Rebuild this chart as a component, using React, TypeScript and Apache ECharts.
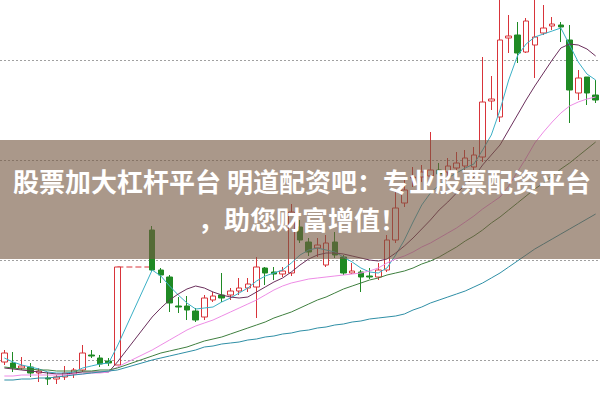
import React, { useEffect, useRef } from 'react';
import * as echarts from 'echarts';

// Trading days (index labels); days 15-17 are a trading gap
const days: string[] = Array.from({ length: 69 }, (_, i) => `D${i + 1}`);

// Candles (price units of the hidden axis)
const opens: (number | null)[] = [38, 37, 32, 33, 27, 22, 21, 23, 26, 30, 45, 42, 39, 35, null, null, null, 170, 130, 123, 94, 94, 89, 83, 100, 105, 105, 109, 112, 113, 132, 128, 126, 127, 173, 158, 152, 135, 158, 143, 127, 128, 124, 123, 130, 160, 197, 222, 223, 224, 230, 228, 232, 234, 233, 243, 299, 283, 362, 365, 348, 355, 367, 374, 375, 360, 307, 323, 305];
const closes: (number | null)[] = [47, 32, 34, 27, 29, 21, 23, 27, 30, 47, 44, 36, 37, 133, null, null, null, 130, 125, 97, 93, 90, 80, 102, 104, 102, 109, 112, 116, 133, 127, 126, 129, 188, 160, 148, 155, 157, 145, 127, 129, 123, 123, 130, 160, 192, 210, 223, 228, 230, 226, 234, 237, 242, 245, 298, 301, 360, 364, 347, 379, 363, 372, 376, 373, 310, 322, 307, 300];
const lows: (number | null)[] = [35, 28, 30, 23, 18, 15, 16, 20, 22, 28, 42, 33, 34, 35, null, null, null, 128, 117, 88, 87, 80, 78, 80, 98, 98, 100, 105, 108, 82, 115, 120, 123, 124, 157, 144, 143, 133, 142, 125, 126, 108, 121, 120, 128, 157, 193, 213, 218, 220, 220, 224, 228, 230, 230, 238, 290, 278, 347, 337, 347, 322, 365, 370, 358, 277, 300, 295, 297];
const highs: (number | null)[] = [50, 48, 43, 37, 32, 28, 25, 34, 32, 55, 50, 45, 42, 133, null, null, null, 174, 132, 125, 103, 104, 92, 105, 108, 127, 112, 122, 122, 143, 133, 133, 133, 196, 180, 162, 162, 165, 168, 145, 137, 130, 132, 137, 165, 210, 220, 233, 235, 268, 237, 242, 248, 250, 253, 343, 324, 412, 385, 378, 382, 410, 395, 383, 378, 375, 330, 323, 320];

// Moving averages
const ma5: (number | null)[] = [42, 38, 35, 33, 31, 28, 27, 27, 28, 32, 34, 36, 37, 54, null, null, null, 130, 124, 114, 105, 97, 91, 92, 93, 98, 102, 107, 112, 119, 124, 127, 130, 137, 145, 150, 152, 150, 148, 143, 138, 132, 128, 127, 132, 145, 160, 178, 195, 207, 215, 222, 227, 232, 236, 250, 265, 290, 320, 344, 356, 363, 366, 369, 372, 355, 338, 326, 320];
const ma10: (number | null)[] = [32, 31, 30, 29, 28, 27, 26, 26, 27, 28, 28, 28, 28, 38, null, null, null, 83, 92, 100, 106, 111, 114, 112, 108, 105, 103, 102, 103, 108, 113, 118, 122, 128, 135, 141, 145, 147, 147, 146, 144, 142, 140, 139, 141, 147, 154, 162, 171, 180, 190, 198, 207, 215, 223, 235, 245, 255, 270, 285, 300, 314, 327, 340, 352, 356, 355, 351, 344];
const ma20: (number | null)[] = [24, 24, 25, 25, 25, 25, 25, 25, 26, 26, 27, 27, 28, 33, null, null, null, 50, 55, 60, 65, 70, 74, 77, 80, 84, 88, 92, 96, 100, 105, 110, 114, 117, 119, 121, 122, 123, 124, 125, 126, 127, 129, 132, 137, 141, 144, 148, 153, 157, 162, 167, 172, 178, 184, 191, 197, 203, 214, 228, 242, 257, 268, 278, 287, 294, 298, 301, 303];
const ma30: (number | null)[] = [33, 32, 31, 31, 30, 30, 29, 29, 29, 29, 29, 30, 30, 32, null, null, null, 44, 47, 49, 51, 53, 56, 59, 61, 63, 66, 69, 72, 75, 78, 82, 85, 88, 92, 96, 100, 103, 107, 111, 114, 117, 120, 122, 125, 127, 129, 132, 136, 139, 143, 148, 153, 159, 164, 170, 177, 183, 190, 197, 204, 211, 217, 224, 231, 237, 244, 251, 258];
const ma60: (number | null)[] = [20, 20, 21, 21, 22, 22, 23, 24, 25, 26, 27, 28, 29, 30, null, null, null, 40, 42, 44, 46, 48, 50, 53, 54, 56, 57, 58, 60, 61, 63, 64, 66, 67, 69, 70, 72, 73, 75, 76, 78, 79, 81, 82, 83, 84, 86, 90, 93, 97, 100, 103, 106, 109, 113, 117, 122, 127, 133, 139, 145, 151, 156, 161, 166, 171, 176, 181, 186];

// Dashed "limit" line bridging the gap
const gapLine: (number | null)[] = days.map((_, i) => (i === 13 || i === 17 ? 133 : null));

// Horizontal reference levels (dotted)
const levels: number[] = [40, 140, 240, 340];

const bannerLines: string[] = [
  '股票加大杠杆平台 明道配资吧：专业股票配资平台',
  '，助您财富增值！',
];

const RED = '#d8343a';
const GREEN = '#1f8a24';

const fix = (arr: (number | null)[]) => arr.map((v) => (v == null ? '-' : v));

export default function App() {
  const ref = useRef<HTMLDivElement>(null);
  useEffect(() => {
    if (!ref.current) return;
    const chart = echarts.init(ref.current, undefined, { renderer: 'svg' });
    const candleData = opens.map((o, i) =>
      o == null ? '-' : [o, closes[i], lows[i], highs[i]]
    );
    const maLine = (name: string, data: (number | null)[], color: string) => ({
      name,
      type: 'line',
      data: fix(data),
      symbol: 'none',
      connectNulls: true,
      smooth: false,
      z: 4,
      lineStyle: { color, width: 1 },
      silent: true,
    });
    const bannerText = (text: string, y: number) => ({
      type: 'text',
      z: 101,
      x: 302,
      y,
      style: {
        text,
        fill: '#ffffff',
        font: 'bold 26px "Noto Sans CJK SC"',
        align: 'center',
        verticalAlign: 'middle',
        textAlign: 'center',
        textVerticalAlign: 'middle',
      },
    });
    chart.setOption({
      animation: false,
      backgroundColor: '#ffffff',
      grid: { left: -2.4, right: -1.4, top: 0, bottom: 0 },
      xAxis: {
        type: 'category',
        data: days,
        boundaryGap: true,
        show: false,
      },
      yAxis: {
        type: 'value',
        min: 0,
        max: 400,
        show: false,
        splitLine: { show: false },
      },
      series: [
        {
          name: 'gap',
          type: 'line',
          data: fix(gapLine),
          connectNulls: true,
          symbol: 'none',
          z: 1,
          lineStyle: { color: RED, width: 1, type: [6, 3] },
          markLine: {
            silent: true,
            z: 1,
            symbol: ['none', 'none'],
            label: { show: false },
            lineStyle: { color: '#a0a0a0', width: 1, type: [2, 2] },
            data: levels.map((v) => ({ yAxis: v })),
          },
        },
        {
          name: 'K',
          type: 'candlestick',
          data: candleData,
          barWidth: 6,
          clip: false,
          z: 3,
          itemStyle: {
            color: '#ffffff',
            color0: GREEN,
            borderColor: RED,
            borderColor0: GREEN,
            borderWidth: 1,
          },
        },
        maLine('MA5', ma5, '#3bb0c6'),
        maLine('MA10', ma10, '#6b2f5c'),
        maLine('MA20', ma20, '#ee8ce6'),
        maLine('MA30', ma30, '#3f7f3f'),
        maLine('MA60', ma60, '#2f8fa6'),
      ],
      graphic: [
        {
          type: 'rect',
          z: 100,
          shape: { x: 0, y: 140, width: 600, height: 119 },
          style: { fill: 'rgba(118,88,66,0.62)' },
        },
        bannerText(bannerLines[0], 180),
        bannerText(bannerLines[1], 218),
      ],
    });
    return () => chart.dispose();
  }, []);
  return (
    <div
      ref={ref}
      style={{ position: 'fixed', left: 0, top: 0, width: 600, height: 400 }}
    />
  );
}
